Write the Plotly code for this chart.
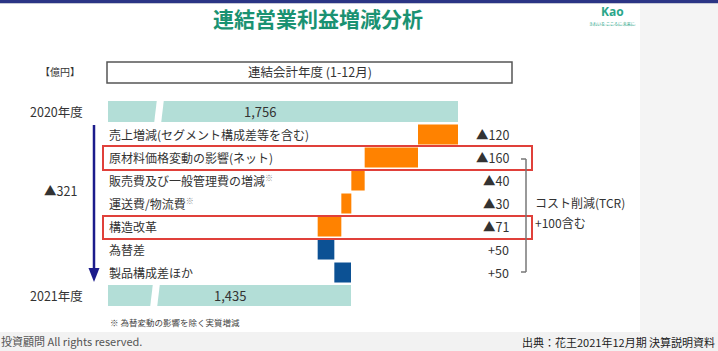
import plotly.graph_objects as go

# ---- data ----
categories = ["2020年度", "売上増減(セグメント構成差等を含む)", "原材料価格変動の影響(ネット)",
              "販売費及び一般管理費の増減", "運送費/物流費", "構造改革", "為替差",
              "製品構成差ほか", "2021年度"]
values = [1756, -120, -160, -40, -30, -71, 50, 50, 1435]
measures = ["absolute", "relative", "relative", "relative", "relative", "relative",
            "relative", "relative", "total"]
footnote_marks = ["", "", "", "※", "※", "", "", "", ""]
total_change = -321

W, H = 718, 351
FONT = "Noto Sans CJK JP"


def px(x):
    return x / W


def py(y):
    return 1 - y / H


x_start = 706            # value at left edge of bars (axis break)
units_per_px = 3
x_end = x_start + (640 - 108) * units_per_px

fig = go.Figure()
fig.add_trace(go.Waterfall(
    orientation="h",
    y=categories,
    x=values,
    measure=measures,
    width=[0.91, 0.87, 0.87, 0.87, 0.87, 0.87, 0.87, 0.87, 0.91],
    connector={"visible": False},
    increasing={"marker": {"color": "#0c5194"}},
    decreasing={"marker": {"color": "#ff8200"}},
    totals={"marker": {"color": "#b3ded7"}},
    textinfo="none",
    hoverinfo="skip",
))

annotations = []


def ann(x, y, text, size, color="#333", xanchor="center", yref="paper", family=FONT,
        yanchor="middle"):
    annotations.append(dict(x=x, y=y, xref="paper", yref=yref, text=text, showarrow=False,
                            xanchor=xanchor, yanchor=yanchor, borderpad=0,
                            font=dict(size=size, color=color, family=family)))


# row labels
for cat, mark in zip(categories[1:-1], footnote_marks[1:-1]):
    txt = cat + (f"<sup><span style='font-size:8px;color:#888'>{mark}</span></sup>" if mark else "")
    ann(px(108), cat, txt, 12, xanchor="left", yref="y")
# year labels
for cat in (categories[0], categories[-1]):
    ann(px(56), cat, cat, 12.5, yref="y")
# totals inside bars
ann(px(260), categories[0], f"{values[0]:,}", 13, yref="y")
ann(px(230), categories[-1], f"{values[-1]:,}", 13, yref="y")
# change values on right
for cat, v in zip(categories[1:-1], values[1:-1]):
    lab = f"▲{abs(v)}" if v < 0 else f"+{v}"
    ann(px(510), cat, lab, 12.5, xanchor="right", yref="y")
# total change
ann(px(61), py(190), f"▲{abs(total_change)}", 12.5)
# header / decorations
ann(px(60), py(72), "【億円】", 10)
ann(px(310), py(72), "連結会計年度 (1-12月)", 12.5)
ann(px(318), py(18), "<b>連結営業利益増減分析</b>", 21, color="#1a9272")
ann(px(612), py(11.5), "<b>Kao</b>", 12, color="#2aa68a", family="Open Sans")
ann(px(612), py(20), "きれいを こころに 未来に", 4, color="#2aa68a", yanchor="top")
ann(px(534), py(202), "コスト削減(TCR)", 12, xanchor="left")
ann(px(534), py(222), "+100含む", 12, xanchor="left")
ann(px(109), py(322), "※ 為替変動の影響を除く実質増減", 8.5, color="#444", xanchor="left")
ann(px(0), py(341), "投資顧問 All rights reserved.", 11, color="#555", xanchor="left")
ann(px(716), py(342), "出典：花王2021年12月期 決算説明資料", 11, color="#222", xanchor="right")


def path(points):
    return "M " + " L ".join(f"{px(x)},{py(y)}" for x, y in points) + " Z"


shapes = [
    # background panels
    dict(type="rect", xref="paper", yref="paper", x0=px(640), x1=1, y0=py(332), y1=py(3),
         fillcolor="#f4f4f4", line_width=0, layer="below"),
    dict(type="rect", xref="paper", yref="paper", x0=0, x1=1, y0=0, y1=py(332),
         fillcolor="#f2f2f2", line_width=0, layer="below"),
    dict(type="rect", xref="paper", yref="paper", x0=0, x1=1, y0=py(3), y1=1,
         fillcolor="#2b3585", line_width=0),
    dict(type="line", xref="paper", yref="paper", x0=0, x1=1, y0=py(3.5), y1=py(3.5),
         line=dict(color="#c5c8d6", width=1)),
    dict(type="line", xref="paper", yref="paper", x0=px(590), x1=px(636), y0=py(25), y1=py(25),
         line=dict(color="#cfe9e2", width=1)),
    # header box
    dict(type="rect", xref="paper", yref="paper", x0=px(107), x1=px(512), y0=py(83), y1=py(62),
         line=dict(color="#555", width=1.5)),
    # axis-break gaps
    dict(type="path", xref="paper", yref="paper",
         path=path([(157, 99), (164, 99), (161, 124), (154, 124)]),
         fillcolor="white", line_width=0),
    dict(type="path", xref="paper", yref="paper",
         path=path([(153, 283), (160, 283), (157, 308), (150, 308)]),
         fillcolor="white", line_width=0),
    # red highlight boxes
    dict(type="rect", xref="paper", yref="paper", x0=px(103), x1=px(532), y0=py(170), y1=py(146),
         line=dict(color="#e0403a", width=2)),
    dict(type="rect", xref="paper", yref="paper", x0=px(103), x1=px(532), y0=py(239), y1=py(216),
         line=dict(color="#e0403a", width=2)),
    # down arrow
    dict(type="line", xref="paper", yref="paper", x0=px(94), x1=px(94), y0=py(125), y1=py(270),
         line=dict(color="#1c1c8c", width=2.5)),
    dict(type="path", xref="paper", yref="paper",
         path=path([(88.5, 268), (99.5, 268), (94, 282)]),
         fillcolor="#1c1c8c", line_width=0),
    # bracket
    dict(type="line", xref="paper", yref="paper", x0=px(526), x1=px(526), y0=py(159), y1=py(272),
         line=dict(color="#777", width=1.5)),
    dict(type="line", xref="paper", yref="paper", x0=px(521), x1=px(526), y0=py(159), y1=py(159),
         line=dict(color="#777", width=1.5)),
    dict(type="line", xref="paper", yref="paper", x0=px(521), x1=px(526), y0=py(272), y1=py(272),
         line=dict(color="#777", width=1.5)),
]

fig.update_layout(
    width=W, height=H,
    margin=dict(l=0, r=0, t=0, b=0),
    paper_bgcolor="white", plot_bgcolor="rgba(0,0,0,0)",
    showlegend=False,
    xaxis=dict(visible=False, range=[x_start, x_end], domain=[px(108), px(640)]),
    yaxis=dict(visible=False, type="category", range=[8.5, -0.5],
               domain=[py(307), py(100)]),
    annotations=annotations,
    shapes=shapes,
    font=dict(family=FONT),
)

fig.write_html("out.html")
